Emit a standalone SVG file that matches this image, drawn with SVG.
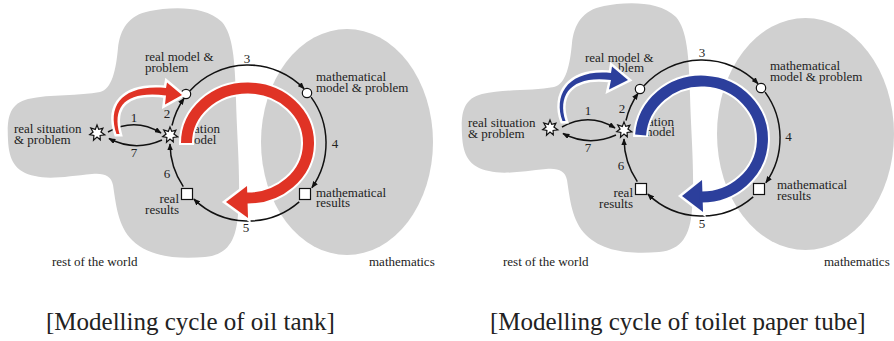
<svg xmlns="http://www.w3.org/2000/svg" width="894" height="341" viewBox="0 0 894 341">
<style>
.bg{fill:#d0d0d0}
.t{font-family:"Liberation Serif","Times New Roman",serif;font-size:13px;fill:#222}
.n{font-family:"Liberation Serif","Times New Roman",serif;font-size:13px;fill:#222;text-anchor:middle}
.cap{font-family:"Liberation Serif","Times New Roman",serif;font-size:25px;fill:#222}
.e{fill:none;stroke:#111;stroke-width:1.5;marker-end:url(#ah)}
.node{fill:#fff;stroke:#111;stroke-width:1.2}
.red{fill:#e03325}
.blue{fill:#2c3f9c}
.wo{stroke:#fff;stroke-width:5;paint-order:stroke;stroke-linejoin:miter}
</style>
<defs>
<marker id="ah" viewBox="0 0 10 8" refX="9" refY="4" markerWidth="7" markerHeight="5.6" markerUnits="userSpaceOnUse" orient="auto"><path d="M0,0 L10,4 L0,8 z" fill="#111"/></marker>
<polygon id="star" points="0,-8 1.7,-3.6 5.9,-4.7 3.9,-0.9 7.8,1.8 3.1,2.5 3.3,6.8 0,4 -3.5,7.2 -3.1,2.5 -7.3,1.7 -3.9,-0.9 -6.2,-5 -1.7,-3.6"/>
<path id="blob" d="M118,48 C120,30 128,15 150,11 C170,7 205,5 222,22 C233,35 235,60 236,100 C237,140 241,180 238,215 C236,240 228,255 205,257 C180,259 150,258 132,240 C118,226 116,205 113,185 C111,176 105,173 92,174 C70,176 50,180 35,176 C15,172 9,160 8,140 C7,120 8,104 28,99 C50,94 80,96 100,92 C112,89 116,70 118,48 Z"/>
</defs>

<!-- backgrounds -->
<g id="left-background">
<use href="#blob" class="bg"/>
<ellipse cx="347" cy="142" rx="86" ry="113" class="bg"/>
</g>
<g id="right-background">
<use href="#blob" class="bg" transform="translate(454,-5)"/>
<ellipse cx="805.5" cy="134" rx="88.5" ry="116" class="bg"/>
</g>

<!-- left panel texts -->
<g id="left-labels">
<text class="t" x="145" y="61">real model &amp;</text>
<text class="t" x="145" y="72">problem</text>
<text class="t" x="316" y="81">mathematical</text>
<text class="t" x="316" y="92">model &amp; problem</text>
<text class="t" x="14" y="133">real situation</text>
<text class="t" x="14" y="143.5">&amp; problem</text>
<text class="t" x="194" y="133">ation</text>
<text class="t" x="194" y="143.5">odel</text>
<text class="t" x="316" y="197">mathematical</text>
<text class="t" x="316" y="207">results</text>
<text class="t" x="179" y="203" text-anchor="end">real</text>
<text class="t" x="179" y="213.5" text-anchor="end">results</text>
<text class="t" x="52" y="265.5">rest of the world</text>
<text class="t" x="369" y="265.5">mathematics</text>
<text class="n" x="134" y="122">1</text>
<text class="n" x="167" y="118">2</text>
<text class="n" x="247" y="63">3</text>
<text class="n" x="335" y="148">4</text>
<text class="n" x="246" y="231.5">5</text>
<text class="n" x="167" y="178">6</text>
<text class="n" x="134" y="156.5">7</text>
</g>

<!-- right panel texts -->
<g id="right-labels">
<text class="t" x="585" y="61.5">real model &amp;</text>
<text class="t" x="618" y="72">blem</text>
<text class="t" x="770" y="69.5">mathematical</text>
<text class="t" x="770" y="80.5">model &amp; problem</text>
<text class="t" x="468" y="127">real situation</text>
<text class="t" x="468" y="137.5">&amp; problem</text>
<text class="t" x="648" y="126">ation</text>
<text class="t" x="646" y="136">nodel</text>
<text class="t" x="777" y="189">mathematical</text>
<text class="t" x="777" y="199.5">results</text>
<text class="t" x="633" y="196.5" text-anchor="end">real</text>
<text class="t" x="633" y="208" text-anchor="end">results</text>
<text class="t" x="503" y="265.5">rest of the world</text>
<text class="t" x="824" y="265.5">mathematics</text>
<text class="n" x="588" y="115">1</text>
<text class="n" x="622" y="112.7">2</text>
<text class="n" x="702" y="56.7">3</text>
<text class="n" x="788.5" y="140.7">4</text>
<text class="n" x="702" y="228.3">5</text>
<text class="n" x="621" y="170">6</text>
<text class="n" x="588" y="151.7">7</text>
</g>

<!-- connectors -->
<g id="left-connectors">
<path class="e" d="M108,132 Q135,117 161,133"/>
<path class="e" d="M162,140 Q135,152 109,138.5"/>
<path class="e" d="M172,125.5 A78,78 0 0 1 184.1,98.2"/>
<path class="e" d="M190,90.8 A78,78 0 0 1 304.1,88.8"/>
<path class="e" d="M311.1,97.1 A78,78 0 0 1 311.9,187.8"/>
<path class="e" d="M299.2,201.9 A78,78 0 0 1 193.8,199.1"/>
<path class="e" d="M183.3,186.6 A78,78 0 0 1 170,144"/>
</g>
<g id="right-connectors" transform="translate(454,-5)">
<path class="e" d="M108,132 Q135,117 161,133"/>
<path class="e" d="M162,140 Q135,152 109,138.5"/>
<path class="e" d="M172,125.5 A78,78 0 0 1 184.1,98.2"/>
<path class="e" d="M190,90.8 A78,78 0 0 1 304.1,88.8"/>
<path class="e" d="M311.1,97.1 A78,78 0 0 1 311.9,187.8"/>
<path class="e" d="M299.2,201.9 A78,78 0 0 1 193.8,199.1"/>
<path class="e" d="M183.3,186.6 A78,78 0 0 1 170,144"/>
</g>

<!-- left nodes -->
<g id="l-real-situation"><use href="#star" x="97" y="133" class="node"/></g>
<g id="l-situation-model"><use href="#star" x="170" y="135" class="node"/></g>
<g id="l-real-model"><circle cx="186" cy="94" r="4.7" class="node"/></g>
<g id="l-math-model"><circle cx="307" cy="93" r="4.7" class="node"/></g>
<g id="l-math-results"><rect x="299.5" y="188.5" width="11" height="11" class="node"/></g>
<g id="l-real-results"><rect x="181.5" y="188.5" width="11" height="11" class="node"/></g>

<!-- right nodes -->
<g id="r-real-situation"><use href="#star" x="550" y="128" class="node"/></g>
<g id="r-situation-model"><use href="#star" x="624" y="130" class="node"/></g>
<g id="r-real-model"><circle cx="640" cy="89" r="4.7" class="node"/></g>
<g id="r-math-model"><circle cx="761" cy="88" r="4.7" class="node"/></g>
<g id="r-math-results"><rect x="753.5" y="183.5" width="11" height="11" class="node"/></g>
<g id="r-real-results"><rect x="635.5" y="183.5" width="11" height="11" class="node"/></g>

<!-- red arrows (oil tank) -->
<g id="red-small">
<path class="red wo" d="M116.5,134 C107,106 122,84 166,88 L167,82.5 L182,95 L165,104.5 L166,95.5 C126,90.5 112,106 119.5,134 Z"/>
</g>
<g id="red-big">
<path d="M186.5,145 L186.5,143 A61,55 0 1 1 247.5,198" fill="none" stroke="#fff" stroke-width="15"/>
<polygon class="red wo" points="247,186 226,202 248,218"/>
<path d="M186.5,143 A61,55 0 1 1 245.4,198" fill="none" stroke="#e03325" stroke-width="11"/>
</g>

<!-- blue arrows (toilet paper tube) -->
<g id="blue-small">
<path class="blue wo" d="M562.5,121 C553,95 568,69 611,73 L612,66.5 L628,80 L609,89.5 L611,80 C572,75 557,94 565.5,121 Z"/>
</g>
<g id="blue-big">
<path d="M640.6,137 L640.6,135 A61,58 0 1 1 701.5,197" fill="none" stroke="#fff" stroke-width="15"/>
<polygon class="blue wo" points="702,180 682,196 703,212"/>
<path d="M640.6,135 A61,58 0 1 1 699.4,197" fill="none" stroke="#2c3f9c" stroke-width="11"/>
</g>

<!-- captions -->
<text class="cap" x="46" y="330">[Modelling cycle of oil tank]</text>
<text class="cap" x="490" y="330">[Modelling cycle of toilet paper tube]</text>
</svg>
